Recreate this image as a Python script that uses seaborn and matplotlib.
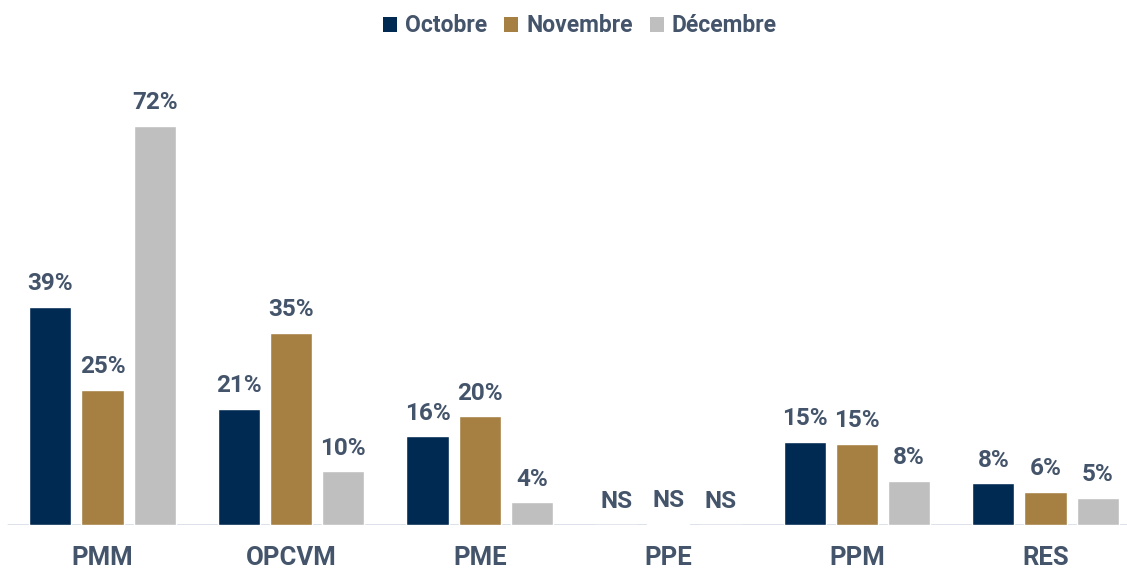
import matplotlib
matplotlib.use("Agg")
import matplotlib.pyplot as plt
from matplotlib.patches import Patch
import pandas as pd
import seaborn as sns

# ---- data ----
categories = ["PMM", "OPCVM", "PME", "PPE", "PPM", "RES"]
months = ["Octobre", "Novembre", "Décembre"]
octobre = [39.4, 21, 16, 0, 15, 7.5]
novembre = [24.4, 34.7, 19.6, 0.2, 14.6, 6]
decembre = [72, 9.7, 4.1, 0, 8, 4.9]
labels_octobre = ["39%", "21%", "16%", "NS", "15%", "8%"]
labels_novembre = ["25%", "35%", "20%", "NS", "15%", "6%"]
labels_decembre = ["72%", "10%", "4%", "NS", "8%", "5%"]

colors = ["#012A52", "#A67F43", "#BFBFBF"]
text_color = "#44546A"

df = pd.DataFrame({
    "cat": categories * 3,
    "mois": [m for m in months for _ in categories],
    "val": octobre + novembre + decembre,
})
all_labels = [labels_octobre, labels_novembre, labels_decembre]

sns.set_style("white")
plt.rcParams["font.family"] = ["Roboto", "DejaVu Sans"]

W, H = 1127, 569
fig = plt.figure(figsize=(W / 100, H / 100), dpi=100)
ax = fig.add_axes([0, 44 / H, 1, 465 / H])

sns.barplot(data=df, x="cat", y="val", hue="mois", order=categories,
            hue_order=months, palette=colors, width=0.83, gap=0.19,
            saturation=1, ax=ax, legend=False)

# scale: group spacing ~188.6 px, first group centre at 102.5 px
ax.set_xlim(-102.5 / 188.6, (W - 102.5) / 188.6)
ax.set_ylim(0, 465 / 5.54)

for cont, labs in zip(ax.containers, all_labels):
    for bar, lab in zip(cont, labs):
        ax.annotate(lab, (bar.get_x() + bar.get_width() / 2, bar.get_height()),
                    xytext=(0, 12), textcoords="offset points",
                    ha="center", va="baseline", fontsize=17.5,
                    fontweight="bold", color=text_color)

ax.axhline(0, xmin=8 / W, xmax=1, color="#D9DEE7", lw=2, zorder=0)
sns.despine(ax=ax, left=True, bottom=True)
ax.set_yticks([])
ax.set_xlabel("")
ax.set_ylabel("")
ax.set_xticks(range(len(categories)))
ax.set_xticklabels(categories, fontsize=18.5, fontweight="bold", color=text_color)
ax.tick_params(axis="x", length=0, pad=15)

handles = [Patch(facecolor=c, edgecolor="none") for c in colors]
fig.legend(handles, months, loc="center", bbox_to_anchor=(580 / W, 1 - 26 / H),
           ncol=3, frameon=False, handlelength=0.6, handleheight=0.6,
           handletextpad=0.35, columnspacing=0.75, labelcolor=text_color,
           prop={"size": 16.5, "weight": "bold"})

fig.savefig("out.png", dpi=100)
